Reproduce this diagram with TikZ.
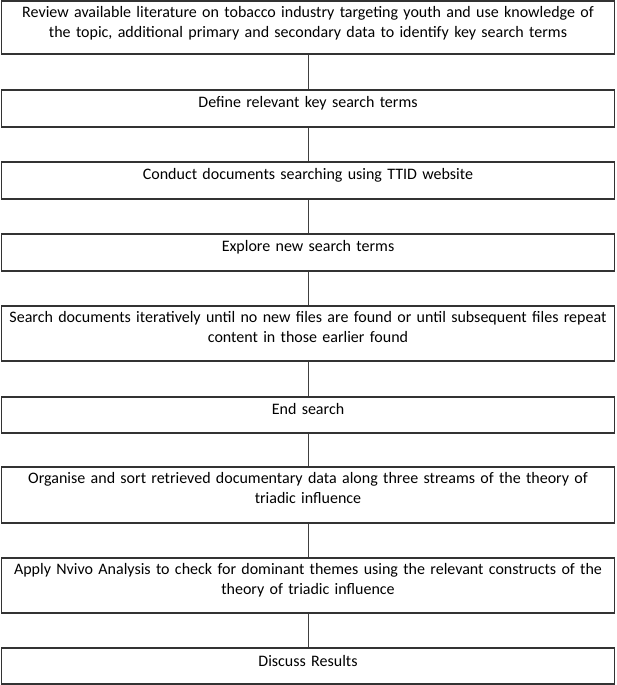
\documentclass[tikz,border=0pt]{standalone}
\usepackage{fontspec}
\setmainfont{Carlito}
\begin{document}
\begin{tikzpicture}[x=1pt,y=-1pt,
  stepbox/.style={draw=black!80, line width=1.2pt, minimum width=613pt, inner sep=0pt},
  steptext/.style={anchor=north, inner sep=0pt, align=center, text width=614pt,
    font=\fontsize{16pt}{20pt}\selectfont},
  link/.style={draw=black!75, line width=1pt}]
\useasboundingbox (0,0) rectangle (616,685);
% boxes
\node[stepbox, minimum height=53pt] (b1) at (308,27.5) {};
\node[stepbox, minimum height=37pt] (b2) at (308,108.5) {};
\node[stepbox, minimum height=37pt] (b3) at (308,180.5) {};
\node[stepbox, minimum height=37pt] (b4) at (308,252.5) {};
\node[stepbox, minimum height=55pt] (b5) at (308,333.5) {};
\node[stepbox, minimum height=36pt] (b6) at (308,415) {};
\node[stepbox, minimum height=56pt] (b7) at (308,495) {};
\node[stepbox, minimum height=55pt] (b8) at (308,585.5) {};
\node[stepbox, minimum height=36pt] (b9) at (308,666) {};
% texts
\node[steptext] (t1) at ([yshift=-6pt]b1.north) {Review available literature on tobacco industry targeting youth and use knowledge of\\the topic, additional primary and secondary data to identify key search terms};
\node[steptext] (t2) at ([yshift=-7pt]b2.north) {Define relevant key search terms};
\node[steptext] (t3) at ([yshift=-7pt]b3.north) {Conduct documents searching using TTID website};
\node[steptext] (t4) at ([yshift=-7pt]b4.north) {Explore new search terms};
\node[steptext] (t5) at ([yshift=-6pt]b5.north) {Search documents iteratively until no new files are found or until subsequent files repeat\\content in those earlier found};
\node[steptext] (t6) at ([yshift=-7pt]b6.north) {End search};
\node[steptext] (t7) at ([yshift=-6pt]b7.north) {Organise and sort retrieved documentary data along three streams of the theory of\\triadic influence};
\node[steptext] (t8) at ([yshift=-6pt]b8.north) {Apply Nvivo Analysis to check for dominant themes using the relevant constructs of the\\theory of triadic influence};
\node[steptext] (t9) at ([yshift=-8pt]b9.north) {Discuss Results};
% connectors
\draw[link] (b1.south) -- (b2.north);
\draw[link] (b2.south) -- (b3.north);
\draw[link] (b3.south) -- (b4.north);
\draw[link] (b4.south) -- (b5.north);
\draw[link] (b5.south) -- (b6.north);
\draw[link] (b6.south) -- (b7.north);
\draw[link] (b7.south) -- (b8.north);
\draw[link] (b8.south) -- (b9.north);
\end{tikzpicture}
\end{document}
